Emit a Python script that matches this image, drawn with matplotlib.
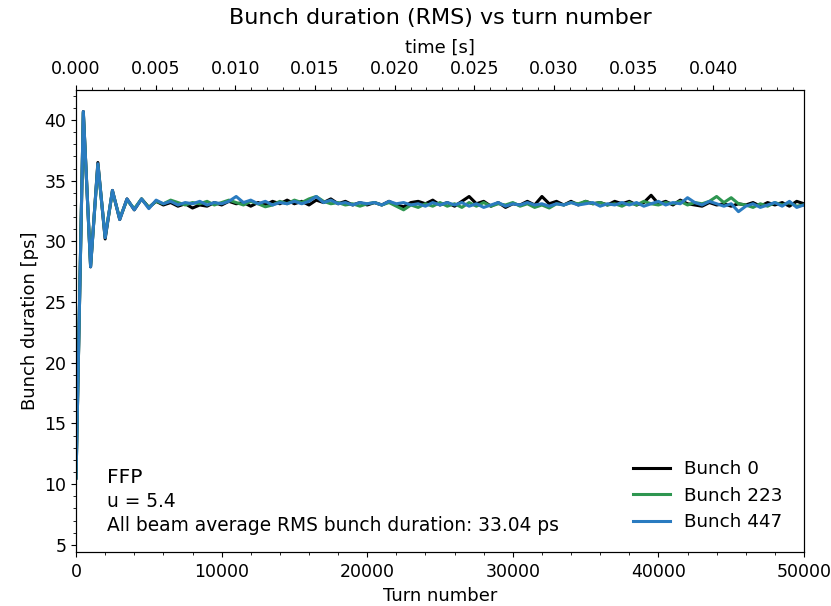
import numpy as np
import matplotlib.pyplot as plt
from matplotlib.ticker import MultipleLocator

# turn numbers where the bunch length was recorded
turns = np.arange(0, 50001, 500)

# RMS bunch duration [ps] of three bunches
bunch_0 = [
    10.5, 40.7, 27.9, 36.5, 30.2, 34.2, 31.8, 33.5, 32.6, 33.5,
    32.8, 33.3, 33.0, 33.2, 32.9, 33.1, 32.75, 33.0, 32.9, 33.2,
    33.0, 33.3, 33.1, 33.2, 32.9, 33.2, 33.0, 33.3, 33.1, 33.4,
    33.1, 33.3, 33.0, 33.4, 33.2, 33.5, 33.1, 33.3, 33.0, 33.2,
    33.0, 33.2, 33.0, 33.3, 33.0, 32.85, 33.2, 33.3, 33.1, 33.4,
    33.0, 33.2, 32.9, 33.3, 33.7, 33.1, 33.3, 32.9, 33.2, 32.8,
    33.1, 33.0, 33.3, 33.0, 33.7, 33.1, 33.3, 33.0, 33.3, 33.0,
    33.3, 33.1, 33.2, 33.0, 33.3, 33.1, 33.3, 33.0, 33.2, 33.8,
    33.1, 33.3, 33.0, 33.4, 33.1, 33.0, 32.9, 33.2, 33.0, 33.1,
    32.9, 33.1, 33.0, 33.2, 32.9, 33.2, 33.0, 33.2, 32.9, 33.3,
    33.1,
]
bunch_223 = [
    10.5, 40.6, 28.0, 36.3, 30.4, 34.1, 31.9, 33.4, 32.7, 33.5,
    32.8, 33.3, 33.1, 33.4, 33.2, 33.0, 33.2, 33.1, 33.3, 33.0,
    33.2, 33.4, 33.2, 33.0, 33.3, 33.1, 32.85, 33.0, 33.3, 33.1,
    33.4, 33.2, 33.5, 33.7, 33.3, 33.1, 33.2, 33.0, 33.1, 32.9,
    33.1, 33.2, 33.0, 33.2, 32.9, 32.6, 33.0, 32.8, 33.1, 32.9,
    33.2, 32.9, 33.1, 32.8, 33.2, 32.9, 33.2, 32.9, 33.1, 33.0,
    33.2, 32.9, 33.1, 32.8, 33.0, 32.75, 33.1, 33.0, 33.2, 33.1,
    33.3, 33.1, 33.2, 33.0, 33.1, 32.9, 33.2, 33.0, 33.3, 33.1,
    33.0, 33.2, 33.1, 33.3, 33.0, 33.2, 33.1, 33.3, 33.7, 33.2,
    33.6, 33.1, 33.0, 32.8, 33.1, 32.9, 33.2, 33.0, 33.2, 32.9,
    33.0,
]
bunch_447 = [
    10.5, 40.7, 27.9, 36.4, 30.3, 34.2, 31.8, 33.5, 32.6, 33.5,
    32.7, 33.4, 33.1, 33.3, 33.0, 33.2, 33.1, 33.3, 33.0, 33.2,
    33.1, 33.3, 33.7, 33.2, 33.4, 33.1, 33.3, 33.0, 33.2, 33.1,
    33.3, 33.1, 33.3, 33.7, 33.2, 33.4, 33.1, 33.2, 33.0, 33.2,
    33.1, 33.2, 33.0, 33.3, 33.1, 33.2, 33.0, 33.1, 32.9, 33.2,
    33.0, 33.2, 33.0, 33.2, 32.9, 33.1, 32.8, 33.0, 33.2, 32.9,
    33.1, 33.0, 33.2, 33.0, 33.1, 32.9, 33.1, 33.0, 33.2, 33.0,
    33.1, 33.2, 32.9, 33.1, 33.0, 33.2, 33.0, 33.2, 32.9, 33.1,
    33.3, 33.0, 33.2, 33.1, 33.6, 33.2, 33.0, 33.3, 33.1, 32.9,
    33.1, 32.45, 32.9, 33.1, 32.8, 33.0, 33.2, 32.9, 33.3, 32.8,
    33.0,
]

labels = ['Bunch 0', 'Bunch 223', 'Bunch 447']
colors = ['black', '#2e9650', '#2a7bc0']
t_rev = 9.14e-7  # revolution period [s]
avg_duration = 33.04

plt.rcParams['font.size'] = 12.5

fig = plt.figure(figsize=(8.31, 6.06), dpi=100)
ax = fig.add_axes([0.0915, 0.089, 0.876, 0.763])

for y, lab, c in zip([bunch_0, bunch_223, bunch_447], labels, colors):
    ax.plot(turns, y, color=c, lw=2.2, label=lab)

ax.set_xlim(0, 50000)
ax.set_ylim(4.4, 42.5)
ax.set_xlabel('Turn number', fontsize=13, labelpad=4)
ax.set_ylabel('Bunch duration [ps]', fontsize=13)
ax.xaxis.set_minor_locator(MultipleLocator(2000))
ax.yaxis.set_minor_locator(MultipleLocator(1))
ax.set_yticks([5, 10, 15, 20, 25, 30, 35, 40])
ax.tick_params(axis='x', which='major', pad=4.5)

# second x axis with time
ax2 = ax.twiny()
ax2.set_xlim(0, 50000 * t_rev)
ax2.set_xticks(np.arange(0, 0.0401, 0.005))
ax2.xaxis.set_minor_locator(MultipleLocator(0.001))
ax2.tick_params(axis='x', which='major', pad=5)
ax2.set_xlabel('time [s]', fontsize=13, labelpad=5)
ax2.set_title('Bunch duration (RMS) vs turn number', fontsize=16, pad=11)

ax.text(0.043, 0.162, 'FFP', transform=ax.transAxes, fontsize=14.5, va='center')
ax.text(0.043, 0.110, 'u = 5.4', transform=ax.transAxes, fontsize=13.4, va='center')
ax.text(0.043, 0.057, 'All beam average RMS bunch duration: %.2f ps' % avg_duration,
        transform=ax.transAxes, fontsize=13.4, va='center')

ax.legend(loc='lower right', frameon=False, fontsize=13.2, handlelength=2,
          borderaxespad=0.75, labelspacing=0.45)

fig.savefig('out.png', dpi=100)
